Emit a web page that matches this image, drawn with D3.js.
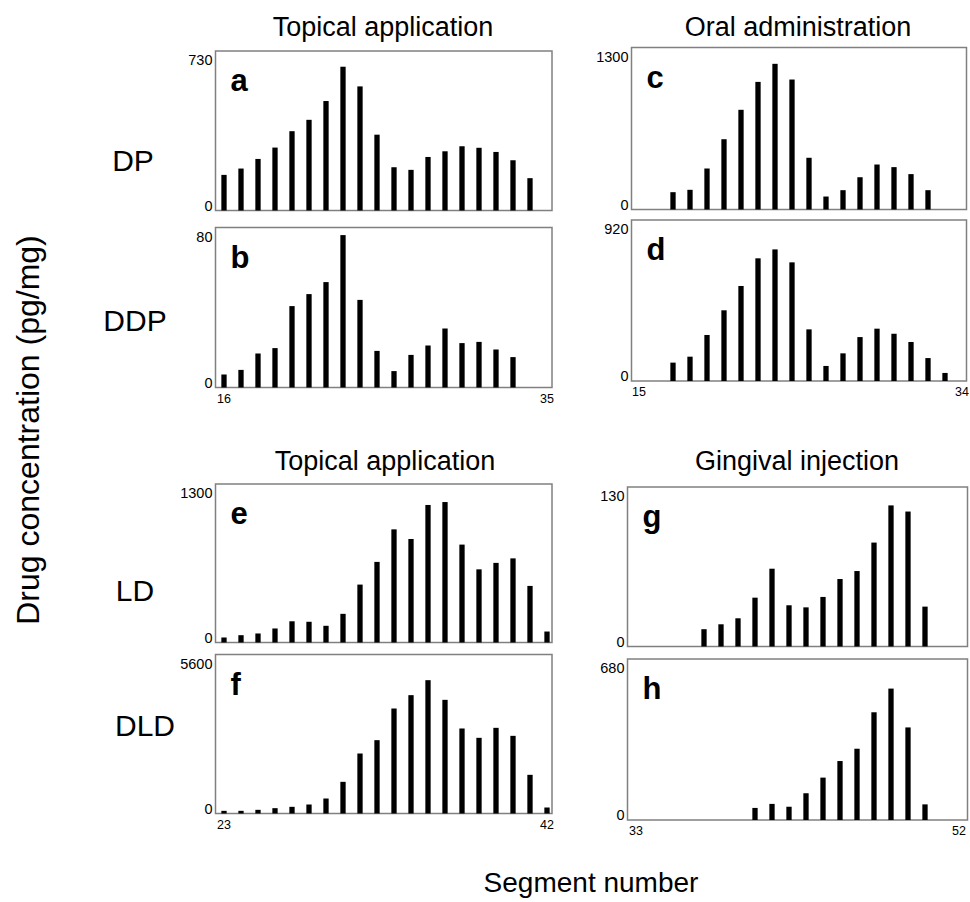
<!DOCTYPE html>
<html>
<head>
<meta charset="utf-8">
<script src="https://cdn.jsdelivr.net/npm/d3@7"></script>
<style>
  html, body { margin: 0; padding: 0; background: #fff; }
  svg { display: block; font-family: "Liberation Sans", Arial, sans-serif; }
</style>
</head>
<body>
<svg id="chart" width="970" height="902"></svg>
<script>
// ---- Data ----
const valuesA = [163,192,236,288,363,415,501,658,568,347,198,186,245,271,294,287,268,230,148]; // seg 16-34
const valuesB = [6.5,8.8,17,19.7,40.7,46.7,52.7,76.2,43.8,18.3,8.2,16.3,21,29.5,22.2,22.8,19,15.2]; // seg 16-33
const valuesC = [139,158,329,564,800,1024,1169,1043,415,104,155,259,361,340,284,155]; // seg 17-32
const valuesD = [105,139,263,404,543,701,752,678,295,86,158,251,299,270,223,131,46]; // seg 17-33
const valuesE = [41,60,74,115,174,170,137,235,475,661,928,849,1128,1152,803,600,653,690,464,90]; // seg 23-42
const valuesF = [94,94,129,188,235,317,528,1115,2113,2583,3698,4168,4696,4003,2994,2665,3017,2735,1362,211]; // seg 23-42
const valuesG = [14.1,18.1,23,39.8,63.4,33.6,31.9,40.4,55,61.5,84.7,115,110,32.5]; // seg 37-50
const valuesH = [51,68,56,113,179,249,301,455,555,391,66]; // seg 40-50

const firstSegments = { a: 16, b: 16, c: 17, d: 17, e: 23, f: 23, g: 37, h: 40 };
const yMaxLabels = { a: "730", b: "80", c: "1300", d: "920", e: "1300", f: "5600", g: "130", h: "680" };
const xTickLabels = { ab: ["16", "35"], cd: ["15", "34"], ef: ["23", "42"], gh: ["33", "52"] };
const columnTitles = ["Topical application", "Oral administration", "Topical application", "Gingival injection"];
const rowLabels = ["DP", "DDP", "LD", "DLD"];

// ---- Layout ----
const svg = d3.select("#chart");
const boxColor = "#808080";

const panels = [
  { id: "a", vals: valuesA, grp: "ab", left: 215.5, right: 552, top: 51, bottom: 210.5, x0: 224, showX: false },
  { id: "b", vals: valuesB, grp: "ab", left: 215.5, right: 552, top: 227.5, bottom: 387.5, x0: 224, showX: true },
  { id: "c", vals: valuesC, grp: "cd", left: 631.5, right: 966.5, top: 47.5, bottom: 209.5, x0: 639, showX: false },
  { id: "d", vals: valuesD, grp: "cd", left: 631.5, right: 966.5, top: 220, bottom: 381, x0: 639, showX: true },
  { id: "e", vals: valuesE, grp: "ef", left: 215.5, right: 552, top: 484, bottom: 642.5, x0: 224, showX: false },
  { id: "f", vals: valuesF, grp: "ef", left: 215.5, right: 552, top: 654.5, bottom: 813.5, x0: 224, showX: true },
  { id: "g", vals: valuesG, grp: "gh", left: 627.5, right: 967.5, top: 487, bottom: 646.5, x0: 636, showX: false },
  { id: "h", vals: valuesH, grp: "gh", left: 627.5, right: 967.5, top: 659, bottom: 820, x0: 636, showX: true }
];
const segStep = 17.0;

panels.forEach(p => {
  const ticks = xTickLabels[p.grp];
  const segLo = +ticks[0], segHi = +ticks[1];
  const x = d3.scaleLinear().domain([segLo, segHi]).range([p.x0, p.x0 + (segHi - segLo) * segStep]);
  const yMax = +yMaxLabels[p.id];
  const y = d3.scaleLinear().domain([0, yMax]).range([p.bottom, p.top]);
  const g = svg.append("g");

  // box
  g.append("rect")
    .attr("x", p.left).attr("y", p.top)
    .attr("width", p.right - p.left).attr("height", p.bottom - p.top)
    .attr("fill", "none").attr("stroke", boxColor).attr("stroke-width", 1.5);

  // bars
  const start = firstSegments[p.id];
  const data = p.vals.map((v, i) => ({ seg: start + i, v }));
  const bw = 5.3;
  g.selectAll("rect.bar").data(data).enter().append("rect")
    .attr("class", "bar")
    .attr("x", d => x(d.seg) - bw / 2)
    .attr("y", d => y(d.v))
    .attr("width", bw)
    .attr("height", d => y(0) - y(d.v))
    .attr("fill", "#000");

  // y labels (0 and max)
  g.append("text").attr("x", p.left - 3).attr("y", y(0)).attr("text-anchor", "end")
    .attr("font-size", 14.5).text("0");
  g.append("text").attr("x", p.left - 3).attr("y", y(yMax) + 14).attr("text-anchor", "end")
    .attr("font-size", 14.5).text(yMaxLabels[p.id]);

  // panel letter
  g.append("text").attr("x", p.left + 15).attr("y", p.top + 40)
    .attr("font-size", 31).attr("font-weight", "bold").text(p.id);

  // x tick labels
  if (p.showX) {
    ticks.forEach(t => {
      g.append("text").attr("x", x(+t)).attr("y", p.bottom + 15)
        .attr("text-anchor", "middle").attr("font-size", 12.5).text(t);
    });
  }
});

// column titles
const titlePos = [[383, 36], [798, 36], [385, 470], [797, 470]];
columnTitles.forEach((t, i) => {
  svg.append("text").attr("x", titlePos[i][0]).attr("y", titlePos[i][1])
    .attr("text-anchor", "middle").attr("font-size", 27).text(t);
});

// row labels
const rowPos = [[133, 171], [135, 331], [135, 601], [145, 736]];
rowLabels.forEach((t, i) => {
  svg.append("text").attr("x", rowPos[i][0]).attr("y", rowPos[i][1])
    .attr("text-anchor", "middle").attr("font-size", 30).text(t);
});

// axis titles
svg.append("text")
  .attr("transform", "translate(39,430) rotate(-90)")
  .attr("text-anchor", "middle").attr("font-size", 32)
  .text("Drug concentration (pg/mg)");
svg.append("text").attr("x", 591).attr("y", 892)
  .attr("text-anchor", "middle").attr("font-size", 28).text("Segment number");
</script>
</body>
</html>
